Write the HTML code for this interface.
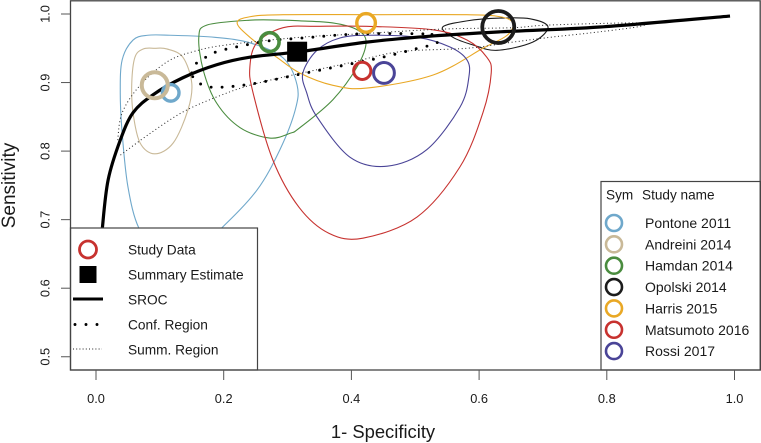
<!DOCTYPE html>
<html lang="en">
<head>
<meta charset="utf-8">
<title>SROC plot</title>
<style>
html,body{margin:0;padding:0;background:#fff;}
svg{display:block;font-family:"Liberation Sans",sans-serif;}
</style>
</head>
<body>
<svg id="chart" width="761" height="443" viewBox="0 0 761 443" xmlns="http://www.w3.org/2000/svg"></svg>
<script>
const xTicks = [0, 0.2, 0.4, 0.6, 0.8, 1.0];
const yTicks = [0.5, 0.6, 0.7, 0.8, 0.9, 1.0];
const studyNames = ['Pontone 2011','Andreini 2014','Hamdan 2014','Opolski 2014','Harris 2015','Matsumoto 2016','Rossi 2017'];
const studyFpr = [0.117,0.092,0.272,0.630,0.423,0.417,0.451];
const studySens = [0.885,0.896,0.959,0.981,0.987,0.917,0.914];
const summaryFpr = 0.315;
const summarySens = 0.945;

const srocFpr = [0.008,0.010,0.019,0.038,0.058,0.089,0.136,0.189,0.241,0.319,0.424,0.528,0.633,0.789,0.993];
const srocSens = [0.656,0.688,0.758,0.816,0.856,0.882,0.907,0.926,0.937,0.945,0.959,0.968,0.974,0.981,0.997];

const confFpr = [0.150,0.158,0.172,0.189,0.225,0.272,0.324,0.412,0.517,0.526,0.534,0.500,0.449,0.398,0.329,0.244,0.191,0.174,0.158];
const confSens = [0.914,0.929,0.937,0.945,0.953,0.961,0.965,0.971,0.971,0.969,0.958,0.949,0.937,0.927,0.914,0.898,0.893,0.895,0.901];

const summRegionFpr = [0.034,0.041,0.069,0.111,0.152,0.205,0.319,0.412,0.543,0.653,0.711,0.849,0.852,0.789,0.711,0.653,0.581,0.476,0.398,0.308,0.241,0.189,0.136,0.085,0.038];
const summRegionSens = [0.816,0.856,0.896,0.930,0.945,0.955,0.966,0.971,0.978,0.980,0.984,0.987,0.982,0.974,0.966,0.959,0.950,0.945,0.929,0.911,0.896,0.879,0.857,0.826,0.794];

const pontoneFpr = [0.116,0.186,0.241,0.293,0.315,0.312,0.288,0.252,0.197,0.147,0.100,0.067,0.050,0.041,0.038,0.041,0.058,0.081];
const pontoneSens = [0.969,0.966,0.958,0.936,0.896,0.860,0.802,0.743,0.688,0.648,0.648,0.688,0.748,0.826,0.885,0.933,0.962,0.969];
const andreiniFpr = [0.092,0.111,0.136,0.150,0.144,0.121,0.092,0.069,0.058,0.056,0.061,0.074];
const andreiniSens = [0.950,0.949,0.937,0.899,0.860,0.812,0.796,0.812,0.856,0.899,0.937,0.949];
const hamdanFpr = [0.161,0.174,0.241,0.293,0.319,0.371,0.409,0.423,0.409,0.371,0.319,0.304,0.272,0.226,0.189,0.168];
const hamdanSens = [0.966,0.984,0.991,0.991,0.990,0.987,0.977,0.959,0.923,0.875,0.834,0.826,0.819,0.834,0.870,0.918];
const opolskiFpr = [0.543,0.581,0.633,0.680,0.708,0.684,0.628,0.590,0.559];
const opolskiSens = [0.981,0.990,0.994,0.993,0.981,0.959,0.947,0.955,0.966];
const harrisFpr = [0.221,0.241,0.293,0.437,0.581,0.633,0.653,0.644,0.606,0.528,0.424,0.371,0.319,0.283,0.241];
const harrisSens = [0.987,0.996,0.999,0.999,0.999,0.996,0.987,0.969,0.950,0.911,0.892,0.896,0.914,0.937,0.966];
const matsumotoFpr = [0.241,0.252,0.293,0.346,0.424,0.528,0.581,0.612,0.619,0.606,0.570,0.503,0.418,0.365,0.318,0.277,0.246];
const matsumotoSens = [0.923,0.958,0.980,0.982,0.982,0.977,0.962,0.937,0.914,0.856,0.777,0.704,0.673,0.680,0.718,0.787,0.885];
const rossiFpr = [0.324,0.346,0.382,0.429,0.503,0.554,0.581,0.584,0.570,0.518,0.456,0.398,0.346,0.330];
const rossiSens = [0.914,0.947,0.965,0.969,0.966,0.952,0.933,0.908,0.864,0.802,0.778,0.791,0.850,0.885];

const contourFpr = [pontoneFpr,andreiniFpr,hamdanFpr,opolskiFpr,harrisFpr,matsumotoFpr,rossiFpr];
const contourSens = [pontoneSens,andreiniSens,hamdanSens,opolskiSens,harrisSens,matsumotoSens,rossiSens];

const studyColor = {'Pontone 2011':'#6fa8cb','Andreini 2014':'#c9b998','Hamdan 2014':'#4a8c3f','Opolski 2014':'#1c1c1c','Harris 2015':'#e9a825','Matsumoto 2016':'#c7322f','Rossi 2017':'#4a4497'};
const markerStyle = {'Pontone 2011':[8.3,3.4],'Andreini 2014':[13,4],'Hamdan 2014':[9.4,3.6],'Opolski 2014':[16,3.8],'Harris 2015':[9.3,3.4],'Matsumoto 2016':[8.6,3],'Rossi 2017':[10.4,3]};

const svg = document.getElementById('chart');
const NS = 'http://www.w3.org/2000/svg';
const xScale = v => 96 + 638.5 * v;
const yScale = v => 14 + (1 - v) * 685.5;

function make(tag, attrs, text) {
  const el = document.createElementNS(NS, tag);
  for (const k in attrs) el.setAttribute(k, attrs[k]);
  if (text !== undefined) el.textContent = text;
  svg.appendChild(el);
  return el;
}
function spline(pts, closed) {
  const n = pts.length;
  const at = i => closed ? pts[(i + n) % n] : pts[Math.max(0, Math.min(n - 1, i))];
  let d = 'M' + pts[0][0].toFixed(2) + ' ' + pts[0][1].toFixed(2);
  const last = closed ? n : n - 1;
  for (let i = 0; i < last; i++) {
    const p0 = at(i - 1), p1 = at(i), p2 = at(i + 1), p3 = at(i + 2);
    const c1x = p1[0] + (p2[0] - p0[0]) / 6, c1y = p1[1] + (p2[1] - p0[1]) / 6;
    const c2x = p2[0] - (p3[0] - p1[0]) / 6, c2y = p2[1] - (p3[1] - p1[1]) / 6;
    d += 'C' + c1x.toFixed(2) + ' ' + c1y.toFixed(2) + ' ' + c2x.toFixed(2) + ' ' + c2y.toFixed(2) + ' ' + p2[0].toFixed(2) + ' ' + p2[1].toFixed(2);
  }
  return closed ? d + 'Z' : d;
}
function curve(fpr, sens, closed) {
  return spline(fpr.map((f, i) => [xScale(f), yScale(sens[i])]), closed);
}
const slug = s => s.toLowerCase().replace(/\s+/g, '-');

/* prediction contours */
studyNames.forEach((name, i) => {
  const el = make('path', {d: curve(contourFpr[i], contourSens[i], true), fill: 'none', stroke: studyColor[name], 'stroke-width': 1.1});
  
  
});

/* summary region */
const summEl = make('path', {d: curve(summRegionFpr, summRegionSens, false), fill: 'none', stroke: '#222', 'stroke-width': 1, 'stroke-dasharray': '1 2.6'});



/* confidence region */
const confEl = make('path', {d: curve(confFpr, confSens, true), fill: 'none', stroke: '#000', 'stroke-width': 2.9, 'stroke-linecap': 'round', 'stroke-dasharray': '0 11'});



/* SROC */
const srocEl = make('path', {d: curve(srocFpr, srocSens, false), fill: 'none', stroke: '#000', 'stroke-width': 3.2});



/* study markers */
studyNames.forEach((name, i) => {
  const el = make('circle', {cx: xScale(studyFpr[i]), cy: yScale(studySens[i]), r: markerStyle[name][0], fill: 'none', stroke: studyColor[name], 'stroke-width': markerStyle[name][1]});
  
  
});

/* summary estimate */
const sumEl = make('rect', {x: xScale(summaryFpr) - 10, y: yScale(summarySens) - 10, width: 20, height: 20, fill: '#000'});



/* left legend */
const leftBox = make('rect', {x: 70.5, y: 228, width: 187, height: 142, fill: '#fff', stroke: '#444', 'stroke-width': 1.2});



const keyCircle = make('circle', {cx: 88, cy: 249.5, r: 8.5, fill: '#fff', stroke: '#c7322f', 'stroke-width': 2.8});


const keySquare = make('rect', {x: 79.5, y: 266, width: 17, height: 17, fill: '#000'});


const keyLine = make('line', {x1: 73, x2: 103, y1: 299, y2: 299, stroke: '#000', 'stroke-width': 3});


const keyConf = make('line', {x1: 75, x2: 98, y1: 324.5, y2: 324.5, stroke: '#000', 'stroke-width': 2.9, 'stroke-linecap': 'round', 'stroke-dasharray': '0 11'});


const keySumm = make('line', {x1: 73, x2: 102, y1: 349, y2: 349, stroke: '#222', 'stroke-width': 0.9, 'stroke-dasharray': '1 2.2'});



const leftLabels = ['Study Data', 'Summary Estimate', 'SROC', 'Conf. Region', 'Summ. Region'];
leftLabels.forEach((t, i) => {
  const el = make('text', {x: 128, y: 254.5 + i * 25, 'font-size': 13.7, fill: '#1a1a1a'}, t);
  
  
});

/* right legend */
const rightBox = make('rect', {x: 601, y: 181.5, width: 160, height: 188.5, fill: '#fff', stroke: '#444', 'stroke-width': 1.2});


const symHead = make('text', {x: 606, y: 199.3, 'font-size': 13.6, fill: '#1a1a1a'}, 'Sym');


const nameHead = make('text', {x: 642, y: 199.3, 'font-size': 13.6, fill: '#1a1a1a'}, 'Study name');


studyNames.forEach((name, i) => {
  const cy = 223 + i * 21.35;
  const c = make('circle', {cx: 614, cy: cy, r: 8, fill: '#fff', stroke: studyColor[name], 'stroke-width': 2.6});
  
  
  const t = make('text', {x: 645, y: cy + 5, 'font-size': 14, fill: '#1a1a1a'}, name);
  
  
});

/* frame */
const frame = make('rect', {x: 70.5, y: 0.8, width: 689.7, height: 369.2, fill: 'none', stroke: '#444', 'stroke-width': 1.3});



/* axes */
xTicks.forEach(v => {
  const tick = make('line', {x1: xScale(v), x2: xScale(v), y1: 370, y2: 380, stroke: '#555', 'stroke-width': 1});
  
  
  const t = make('text', {x: xScale(v), y: 403, 'text-anchor': 'middle', 'font-size': 12.8, fill: '#1a1a1a'}, v.toFixed(1));
  
  
});
yTicks.forEach(v => {
  const y = yScale(v);
  const tick = make('line', {x1: 61, x2: 70.5, y1: y, y2: y, stroke: '#555', 'stroke-width': 1});
  
  
  const t = make('text', {x: 49.5, y: y, 'text-anchor': 'middle', 'font-size': 12.8, fill: '#1a1a1a', transform: 'rotate(-90 49.5 ' + y + ')'}, v.toFixed(1));
  
  
});
const xTitle = make('text', {x: 383, y: 438, 'text-anchor': 'middle', 'font-size': 18.4, fill: '#1a1a1a'}, '1- Specificity');


const yTitle = make('text', {x: 15, y: 185.5, 'text-anchor': 'middle', 'font-size': 19, fill: '#1a1a1a', transform: 'rotate(-90 15 185.5)'}, 'Sensitivity');


</script>
</body>
</html>
